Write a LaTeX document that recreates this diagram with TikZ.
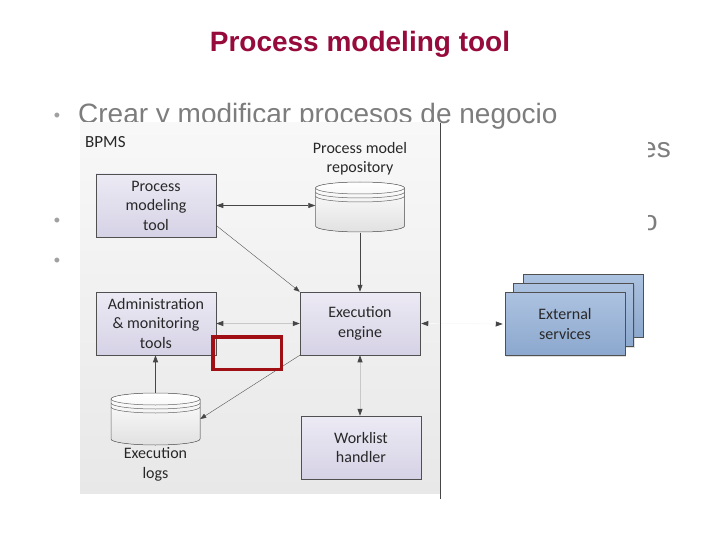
\documentclass[tikz,border=0pt]{standalone}
\usepackage{fontspec}
\setmainfont{Liberation Sans}
\newfontfamily\diafont{Carlito}
\usetikzlibrary{arrows.meta,shadows,calc}
\definecolor{titlecol}{RGB}{150,10,60}
\definecolor{bulletgray}{RGB}{125,125,125}
\definecolor{dotgray}{RGB}{160,160,160}
\definecolor{boxtop}{RGB}{236,234,244}
\definecolor{boxbot}{RGB}{214,210,230}
\definecolor{boxline}{RGB}{80,80,80}
\definecolor{exttop}{RGB}{172,194,224}
\definecolor{extbot}{RGB}{140,168,206}
\definecolor{paneltop}{RGB}{248,248,248}
\definecolor{panelbot}{RGB}{232,232,232}
\definecolor{redbox}{RGB}{160,15,20}
\definecolor{arrowdark}{RGB}{70,70,70}
\definecolor{linelight}{RGB}{200,200,200}
\definecolor{lineverylight}{RGB}{248,248,248}
\definecolor{cylline}{RGB}{100,100,100}
\definecolor{cylbot}{RGB}{225,225,225}
\definecolor{diatext}{RGB}{40,40,40}
\tikzset{
  bigtip/.tip={Triangle[length=7pt,width=5pt,color=arrowdark]},
  smalltip/.tip={Triangle[length=6pt,width=4.5pt,color=arrowdark]}
}
\begin{document}
\begin{tikzpicture}[x=1pt,y=-1pt,
  diatxt/.style={font=\diafont\fontsize{16}{19.5}\selectfont, text=diatext, align=center},
  box/.style={diatxt, draw=boxline, line width=0.5pt, top color=boxtop, bottom color=boxbot,
    minimum width=120pt, minimum height=63pt, inner sep=0pt,
    drop shadow={opacity=0.25, shadow xshift=1.2pt, shadow yshift=-1.2pt}},
  extbox/.style={box, top color=exttop, bottom color=extbot},
  holder/.style={minimum width=89pt, minimum height=52pt, inner sep=0pt},
  cyl/.style={draw=cylline, line width=0.5pt},
  conn/.style={draw=arrowdark, line width=0.7pt},
  thinconn/.style={draw=arrowdark, line width=0.35pt},
  lightconn/.style={draw=linelight, line width=0.7pt},
  bullettxt/.style={font=\fontsize{28}{33}\selectfont, text=bulletgray, inner sep=0pt},
  dot/.style={font=\fontsize{18}{18}\selectfont, text=dotgray, inner sep=0pt}
]
\useasboundingbox (0,0) rectangle (720,540);
\fill[white] (0,0) rectangle (720,540);

% title and slide text
\node[anchor=base, font=\bfseries\fontsize{28}{28}\selectfont, text=titlecol, inner sep=0pt] (title) at (360,52) {Process modeling tool};
\node[dot] (b1) at (57,117) {•};
\node[dot] (b2) at (57,222) {•};
\node[dot] (b3) at (57,262) {•};
\node[bullettxt, anchor=base west] (l1) at (78,124) {Crear y modificar procesos de negocio};
\begin{scope}
  \clip (648,130) rectangle (700,170);
  \node[bullettxt, anchor=base east] (l2) at (671,158) {es};
\end{scope}
\begin{scope}
  \clip (648,200) rectangle (700,240);
  \node[bullettxt, anchor=base east] (l3) at (658,230) {o};
\end{scope}

% panel
\shade[top color=paneltop, bottom color=panelbot] (80,123) rectangle (440,493);

\node[font=\diafont\fontsize{17}{20}\selectfont, text=diatext, anchor=base west, inner sep=0pt] (bpms) at (85,148) {BPMS};

% boxes
\node[box] (pmt) at (156,205.5) {Process\\modeling\\tool};
\node[box] (adm) at (156,323.5) {Administration\\\& monitoring\\tools};
\node[box] (eng) at (360,323.5) {Execution\\engine};
\node[box] (wl) at (361,447.5) {Worklist\\handler};

% repository cylinder
\node[holder] (repo) at (360,207) {};
\node[diatxt] (repolab) at (360,158.5) {Process model\\repository};
\fill[top color=white, bottom color=cylbot] (315.5,188) -- (315.5,226) arc[start angle=180,end angle=360,x radius=44.5pt,y radius=6pt] -- (404.5,188) arc[start angle=0,end angle=180,x radius=44.5pt,y radius=6pt] -- cycle;
\draw[cyl] (315.5,188) -- (315.5,226) arc[start angle=180,end angle=360,x radius=44.5pt,y radius=6pt] -- (404.5,188);
\draw[cyl] (360,188) ellipse[x radius=44.5pt,y radius=6pt];
\draw[cyl] (315.5,192) arc[start angle=180,end angle=360,x radius=44.5pt,y radius=6pt];
\draw[cyl] (315.5,196) arc[start angle=180,end angle=360,x radius=44.5pt,y radius=6pt];

% logs cylinder
\node[holder] (logs) at (155.5,419) {};
\node[diatxt] (logslab) at (155.5,464.5) {Execution\\logs};
\fill[top color=white, bottom color=cylbot] (111,399) -- (111,439) arc[start angle=180,end angle=360,x radius=44.5pt,y radius=6pt] -- (200,399) arc[start angle=0,end angle=180,x radius=44.5pt,y radius=6pt] -- cycle;
\draw[cyl] (111,399) -- (111,439) arc[start angle=180,end angle=360,x radius=44.5pt,y radius=6pt] -- (200,399);
\draw[cyl] (155.5,399) ellipse[x radius=44.5pt,y radius=6pt];
\draw[cyl] (111,403) arc[start angle=180,end angle=360,x radius=44.5pt,y radius=6pt];
\draw[cyl] (111,407) arc[start angle=180,end angle=360,x radius=44.5pt,y radius=6pt];

% external services
\node[extbox] (ext3) at (583,305.5) {};
\node[extbox] (ext2) at (573.5,315) {};
\node[extbox] (ext) at (565,324) {External\\services};

% connectors
\draw[conn, bigtip-bigtip] (pmt.east) -- (repo.west |- pmt.east);
\draw[thinconn, -smalltip] ([yshift=-20pt]pmt.east) -- (eng.north west);
\draw[conn, -bigtip] (repo.south) -- (eng.north);
\draw[lightconn, bigtip-bigtip] (adm.east) -- (eng.west);
\draw[thinconn, -smalltip] (eng.south west) -- (logs.east);
\draw[conn, -bigtip] (logs.north) -- (adm.south -| logs.north);
\draw[lightconn, bigtip-bigtip] (eng.south) -- (eng.south |- wl.north);
\draw[draw=lineverylight, line width=0.7pt, shorten <=1pt, shorten >=2pt, bigtip-bigtip] (eng.east) -- (ext.west);

% panel right border
\draw[draw=arrowdark, line width=1pt] (440,123) -- (440,499);

% highlight
\node[draw=redbox, line width=3.5pt, minimum width=68.5pt, minimum height=32.5pt, inner sep=0pt] (hl) at (247,353) {};
\end{tikzpicture}
\end{document}
